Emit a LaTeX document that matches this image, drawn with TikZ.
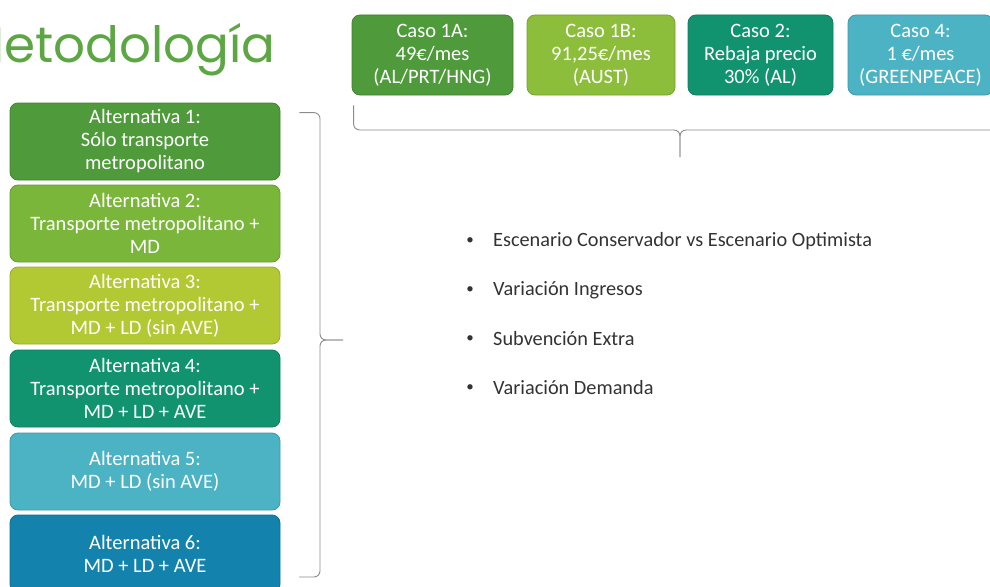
\documentclass[tikz,border=0pt]{standalone}
\usepackage{fontspec}
\setmainfont{Carlito}
\newfontfamily\titlefont{Poppins}
\usetikzlibrary{positioning,calc}

\definecolor{titlegreen}{HTML}{5CA744}
\definecolor{darkgreen}{HTML}{4F9A3A}
\definecolor{midgreen}{HTML}{7AB63A}
\definecolor{limegreen}{HTML}{B3C934}
\definecolor{lightgreen}{HTML}{8DBE3B}
\definecolor{tealgreen}{HTML}{12936F}
\definecolor{skyblue}{HTML}{4CB3C5}
\definecolor{deepblue}{HTML}{1383AD}
\definecolor{bracegray}{HTML}{8C8C8C}
\definecolor{bullettext}{HTML}{333333}

\tikzset{
  altbox/.style={draw=#1!85!black, fill=#1, rounded corners=8pt, line width=0.8pt,
    text=white, align=center, minimum width=270pt, minimum height=77pt,
    inner sep=2pt, font=\fontsize{20.5}{23}\selectfont},
  casobox/.style={draw=#1!85!black, fill=#1, rounded corners=8pt, line width=0.8pt,
    text=white, align=center, minimum height=80pt,
    inner sep=2pt, font=\fontsize{20.5}{23}\selectfont},
  bracket/.style={draw=bracegray, line width=0.9pt, rounded corners=6pt},
  item/.style={anchor=west, inner sep=0pt, text=bullettext, font=\fontsize{20.3}{23}\selectfont},
  dot/.style={anchor=east, inner sep=0pt, text=bullettext, font=\fontsize{15}{17}\selectfont},
}

\begin{document}
\begin{tikzpicture}[x=1pt,y=-1pt]
  \useasboundingbox (0,0) rectangle (990,586);
  \clip (0,0) rectangle (990,586);
  \fill[white] (0,0) rectangle (990,586);

  % Title
  \node[anchor=base east, inner sep=0pt, text=titlegreen,
    font=\titlefont\fontsize{50}{56}\selectfont] (title) at (276,63) {Metodología};

  % Alternatives
  \node[altbox=darkgreen] (alt1) at (145,141.5) {Alternativa 1:\\Sólo transporte\\metropolitano};
  \node[altbox=midgreen] (alt2) at (145,223.5) {Alternativa 2:\\Transporte metropolitano +\\MD};
  \node[altbox=limegreen] (alt3) at (145,305.5) {Alternativa 3:\\Transporte metropolitano +\\MD + LD (sin AVE)};
  \node[altbox=tealgreen] (alt4) at (145,388.5) {Alternativa 4:\\Transporte metropolitano +\\MD + LD + AVE};
  \node[altbox=skyblue] (alt5) at (145,471.5) {Alternativa 5:\\MD + LD (sin AVE)};
  \node[altbox=deepblue] (alt6) at (145,553.5) {Alternativa 6:\\MD + LD + AVE};

  % Cases
  \node[casobox=darkgreen, minimum width=161pt] (caso1a) at (432.5,55) {Caso 1A:\\49€/mes\\(AL/PRT/HNG)};
  \node[casobox=lightgreen, minimum width=148pt] (caso1b) at (601,55) {Caso 1B:\\91,25€/mes\\(AUST)};
  \node[casobox=tealgreen, minimum width=145pt] (caso2) at (760.5,55) {Caso 2:\\Rebaja precio\\30\% (AL)};
  \node[casobox=skyblue, minimum width=145pt] (caso4) at (920.5,55) {Caso 4:\\1 €/mes\\(GREENPEACE)};

  % Brace under the cases
  \coordinate (topl) at ($(caso1a.south west)+(2,10)$);
  \coordinate (toptip) at (680,157);
  \draw[bracket] (topl) |- (680,130) -- (toptip);
  \draw[bracket] (toptip) -- (680,130) -- (1010,130);

  % Brace beside the alternatives
  \coordinate (sidetop) at ($(alt1.north east)+(19,10)$);
  \coordinate (sidetip) at (343,340);
  \coordinate (sidebot) at (299,577);
  \draw[bracket] (sidetop) -| (320,340) -- (sidetip);
  \draw[bracket] (sidetip) -- (320,340) |- (sidebot);

  % Sensitivity items
  \node[item] (it1) at (493,241) {Escenario Conservador vs Escenario Optimista};
  \node[item] (it2) at (493,290) {Variación Ingresos};
  \node[item] (it3) at (493,339) {Subvención Extra};
  \node[item] (it4) at (493,388) {Variación Demanda};
  \node[dot, left=19pt of it1.west] {\textbullet};
  \node[dot, left=19pt of it2.west] {\textbullet};
  \node[dot, left=19pt of it3.west] {\textbullet};
  \node[dot, left=19pt of it4.west] {\textbullet};
\end{tikzpicture}
\end{document}
